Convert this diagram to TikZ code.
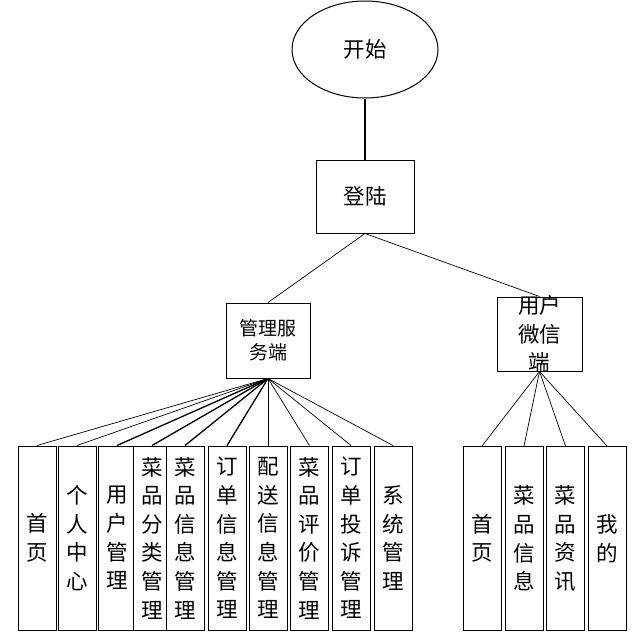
\documentclass[tikz,border=0pt]{standalone}
\usepackage{fontspec}
\newfontfamily\cjk{Noto Sans CJK SC}
\usetikzlibrary{shapes.geometric}

\begin{document}
\begin{tikzpicture}[x=1pt,y=-1pt]
\tikzstyle{every node}=[font=\cjk\fontsize{21.5}{28.6}\selectfont,align=center,inner sep=0pt]
\tikzstyle{box}=[draw,fill=white,line width=1pt]
\tikzstyle{leaf}=[box,minimum width=38pt,minimum height=184pt]
\tikzstyle{link}=[line width=0.7pt]
\tikzstyle{boldlink}=[line width=1.3pt]
\useasboundingbox (0,0) rectangle (637,632);

\node[draw,ellipse,line width=1pt,minimum width=146pt,minimum height=97pt] (start) at (365,49.5) {开始};
\node[box,minimum width=98pt,minimum height=73pt] (login) at (365,196.5) {登陆};
\node[box,minimum width=84pt,minimum height=75pt,font=\cjk\fontsize{19}{24}\selectfont] (admin) at (268,340.5) {管理服\\务端};
\node[box,minimum width=85pt,minimum height=74pt] (user) at (539.5,334) {};
\node (usertxt) at (user.center) {用户\\微信\\端};

\draw[line width=2pt] (start) -- (login);
\draw[link] (login.south) -- (admin.north);
\draw[link] (login.south) -- (user.north);

% admin side
\node[leaf] (a1) at (37,538) {首\\页};
\node[leaf] (a2) at (77,538) {个\\人\\中\\心};
\node[leaf] (a3) at (117,538) {用\\户\\管\\理};
\node[leaf] (a4) at (152,538) {菜\\品\\分\\类\\管\\理};
\node[leaf] (a5) at (185,538) {菜\\品\\信\\息\\管\\理};
\node[leaf] (a6) at (227,538) {订\\单\\信\\息\\管\\理};
\node[leaf] (a7) at (268,538) {配\\送\\信\\息\\管\\理};
\node[leaf] (a8) at (309.5,538) {菜\\品\\评\\价\\管\\理};
\node[leaf] (a9) at (351,538) {订\\单\\投\\诉\\管\\理};
\node[leaf] (a10) at (393,538) {系\\统\\管\\理};

\foreach \n in {a1,a2,a7,a8,a9,a10}
  \draw[link] (admin.south) -- (\n.north);
\foreach \n in {a3,a4,a5,a6}
  \draw[boldlink] (admin.south) -- (\n.north);

% user side
\node[leaf] (u1) at (482,538.5) {首\\页};
\node[leaf] (u2) at (524,538.5) {菜\\品\\信\\息};
\node[leaf] (u3) at (565.5,538.5) {菜\\品\\资\\讯};
\node[leaf] (u4) at (607,538.5) {我\\的};

\foreach \n in {u1,u2,u3,u4}
  \draw[link] (user.south) -- (\n.north);
\end{tikzpicture}
\end{document}
